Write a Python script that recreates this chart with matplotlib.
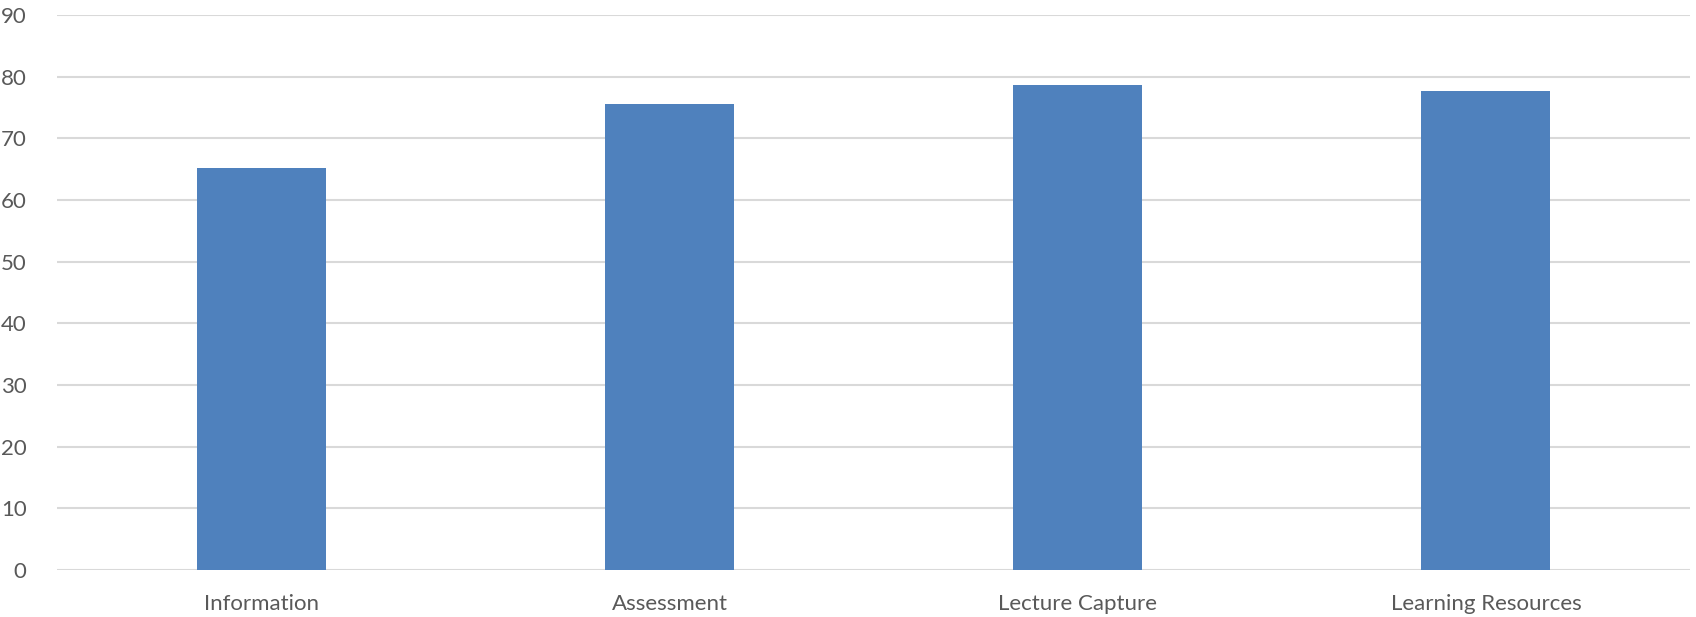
import matplotlib
matplotlib.use("Agg")
import matplotlib.pyplot as plt

# usage scores by service area
categories = ["Information", "Assessment", "Lecture Capture", "Learning Resources"]
scores = [65.2, 75.6, 78.6, 77.7]
y_ticks = [0, 10, 20, 30, 40, 50, 60, 70, 80, 90]

plt.rcParams['font.family'] = ['Lato', 'DejaVu Sans']

fig = plt.figure(figsize=(16.96, 6.17), dpi=100)
ax = fig.add_axes([0.0337, 0.0762, 0.9628, 0.8995])

x = list(range(len(categories)))
ax.bar(x, scores, width=0.316, color='#4f81bd', zorder=3)

ax.set_xlim(-0.5, len(categories) - 0.5)
ax.set_ylim(0, 90)
ax.set_yticks(y_ticks)
ax.set_xticks(x)
ax.set_xticklabels(categories)
ax.tick_params(axis='both', length=0, labelsize=16, colors='#595959')
ax.tick_params(axis='x', pad=17)
ax.tick_params(axis='y', pad=22)

ax.grid(axis='y', color='#d9d9d9', linewidth=1.5, zorder=0)
for side in ['top', 'right', 'left', 'bottom']:
    ax.spines[side].set_visible(False)

fig.savefig("out.png", dpi=100)
